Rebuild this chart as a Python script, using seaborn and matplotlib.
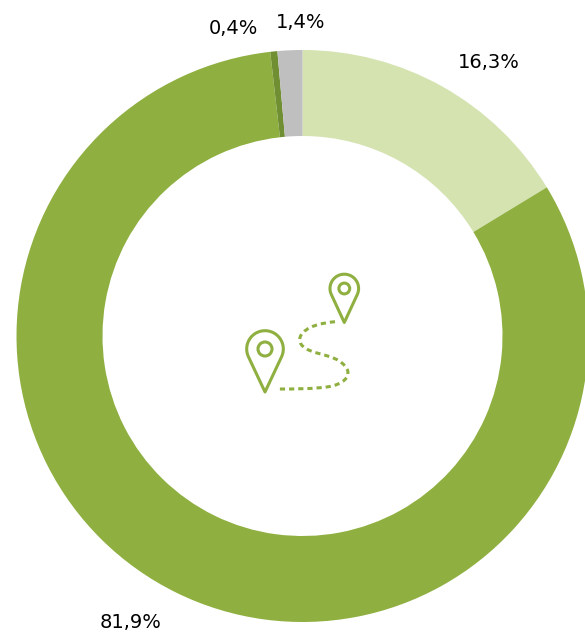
import matplotlib
matplotlib.use('Agg')
import matplotlib.pyplot as plt
from matplotlib.patches import Circle, PathPatch, Polygon
from matplotlib.path import Path
import numpy as np
import seaborn as sns

shares = [16.3, 81.9, 0.4, 1.4]
share_labels = ['16,3%', '81,9%', '0,4%', '1,4%']
colors = ['#D5E3B1', '#8FB040', '#6F8F32', '#BFBFBF']

sns.set_theme(style='white')
plt.rcParams['font.family'] = ['DejaVu Sans']

W, H = 585, 633
fig = plt.figure(figsize=(W / 100, H / 100), dpi=100)
ax = fig.add_axes([0, 0, 1, 1])


# y is flipped so everything below can be read straight off the picture
def flip(x, y):
    return x, H - y


ax.pie(shares, colors=colors, startangle=90, counterclock=False,
       center=flip(302.5, 336), radius=286, frame=True,
       wedgeprops={'width': 86, 'linewidth': 0})
ax.set_xlim(0, W)
ax.set_ylim(0, H)
ax.axis('off')

# labels
label_pos = [(489, 62.5), (131, 622), (233, 28.5), (301, 22.5)]
for txt, (x, y) in zip(share_labels, label_pos):
    ax.text(*flip(x, y), txt, ha='center', va='center', fontsize=14, color='#000000')


# location icon
icon = '#8FB040'


def pin(cx, cy, r, tip_y, ring):
    # straight sides run from the tip to the tangent points of the round head
    a = np.arcsin(r / (tip_y - cy))
    ang = np.linspace(-a, np.pi + a, 60)
    xs = cx + r * np.cos(ang)
    ys = cy - r * np.sin(ang)
    pts = [flip(cx, tip_y)] + [flip(x, y) for x, y in zip(xs, ys)]
    ax.add_patch(Polygon(pts, closed=True, fc='none', ec=icon, lw=2.2, joinstyle='round'))
    ax.add_patch(Circle(flip(cx, cy), ring, fc='none', ec=icon, lw=2.2))


pin(265, 349, 18.3, 392, 7)
pin(344.3, 288.5, 14.3, 322.5, 5.4)

trail = [(335, 321.7), (322, 323), (306, 326), (300.5, 336),
         (297, 345), (306, 350), (317, 353),
         (330, 356.5), (342, 359), (347.5, 370),
         (350, 378), (342, 384), (330, 386.5),
         (315, 389), (295, 389), (278, 389)]
trail_codes = [Path.MOVETO] + [Path.CURVE4] * 15
ax.add_patch(PathPatch(Path([flip(*v) for v in trail], trail_codes), fc='none', ec=icon,
                       lw=2.2, capstyle='butt', linestyle=(0, (1.7, 1.3))))

fig.savefig('out.png', dpi=100)
